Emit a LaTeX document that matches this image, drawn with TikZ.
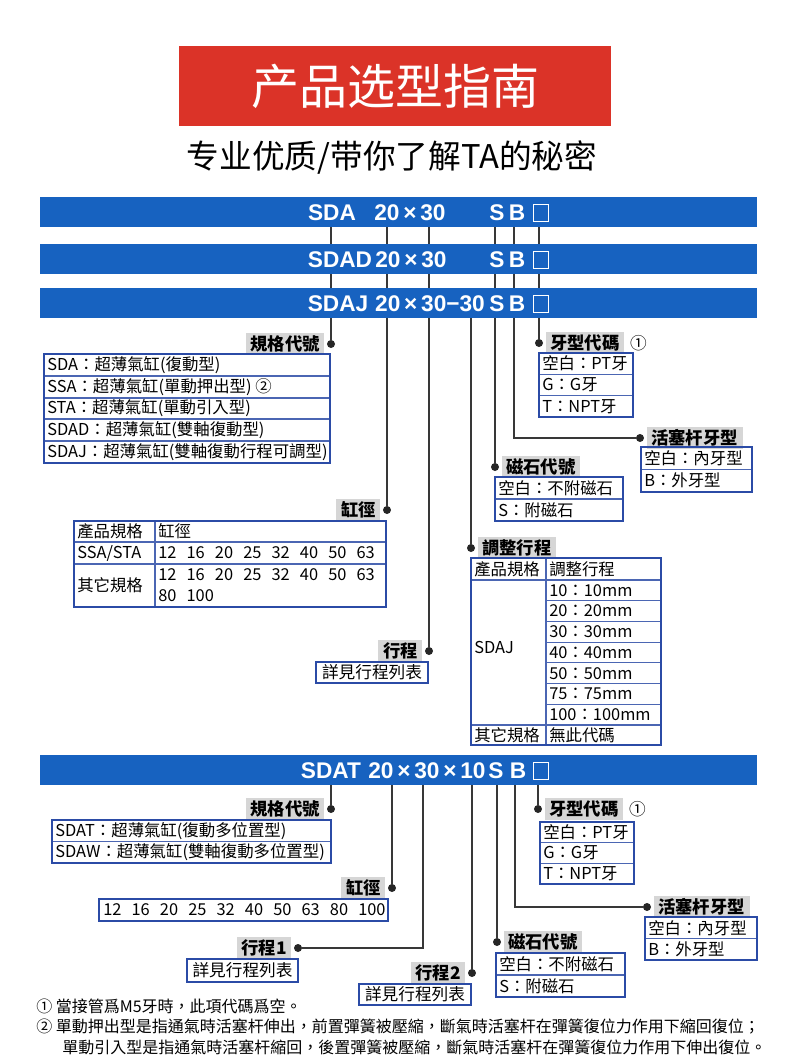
\documentclass[tikz,border=0pt]{standalone}
\usepackage{fontspec}
\setmainfont{Noto Sans CJK TC}
\newfontfamily\scfont{Noto Sans CJK SC}
\newfontfamily\barfont{Liberation Sans}
\usetikzlibrary{positioning}
\definecolor{titlered}{HTML}{DB3328}
\definecolor{barblue}{HTML}{1762C0}
\definecolor{tblblue}{HTML}{2B4BA6}
\definecolor{lblgray}{HTML}{D6D6D6}
\definecolor{leadgray}{HTML}{383838}
\newcommand\nsp{\hspace{7.6pt}}
\tikzset{
  % balkar
  bar/.style={fill=barblue,minimum width=537.75pt,minimum height=22.5pt,inner sep=0pt},
  code/.style={text=white,font=\barfont\bfseries\fontsize{17}{19}\selectfont,inner sep=0pt},
  codebox/.style={draw=white,line width=1pt,minimum width=11.5pt,minimum height=13pt,inner sep=0pt},
  % ledare
  lead/.style={draw=leadgray,line width=1.1pt},
  dot/.style={circle,fill=black!85,inner sep=0pt,minimum size=6pt},
  lbl/.style={fill=lblgray,font=\bfseries\fontsize{13}{15}\selectfont,inner xsep=3.5pt,inner ysep=0pt,minimum height=16pt},
  % tabeller
  tblo/.style={draw=tblblue,line width=1.5pt},
  tbli/.style={draw=tblblue!85,line width=0.8pt},
  cell/.style={anchor=west,inner sep=0pt,font=\fontsize{12.3}{14}\selectfont},
  mid/.style={inner sep=0pt,font=\fontsize{12.5}{14}\selectfont},
  note/.style={anchor=west,inner sep=0pt,font=\fontsize{12}{14}\selectfont},
}
\begin{document}
\begin{tikzpicture}[x=0.75pt,y=-0.75pt]
\useasboundingbox (0,0) rectangle (790,1061);
  % rubrik
  \node[fill=titlered,text=white,minimum width=324pt,minimum height=60pt,
        font=\scfont\fontsize{36}{40}\selectfont] (title) at (395,86) {产品选型指南};
  \node[font=\scfont\fontsize{24.5}{28}\selectfont] (subtitle) at (392,158) {专业优质/带你了解TA的秘密};

  % punkter, övre delen
  \node[dot] (d1) at (331,344) {};
  \node[dot] (d2) at (387,510) {};
  \node[dot] (d3) at (429,651) {};
  \node[dot] (d4) at (471,548) {};
  \node[dot] (d5) at (495,467) {};
  \node[dot] (d6) at (640,438) {};
  \node[dot] (d7) at (539,343) {};
  \coordinate (u1) at (331,227);
  \coordinate (u2) at (387,227);
  \coordinate (u3) at (429,227);
  \coordinate (u4) at (471,318);
  \coordinate (u5) at (495,227);
  \coordinate (u6) at (514,227);
  \coordinate (u7) at (539,227);
  \draw[lead] (u1) -- (d1);
  \draw[lead] (u2) -- (d2);
  \draw[lead] (u3) -- (d3);
  \draw[lead] (u4) -- (d4);
  \draw[lead] (u5) -- (d5);
  \draw[lead] (u6) |- (d6);
  \draw[lead] (u7) -- (d7);

  % punkter, nedre delen
  \node[dot] (e1) at (331,809) {};
  \node[dot] (e2) at (392,888) {};
  \node[dot] (e3) at (298,948) {};
  \node[dot] (e4) at (472,973) {};
  \node[dot] (e5) at (497,942) {};
  \node[dot] (e6) at (647,907) {};
  \node[dot] (e7) at (538,809) {};
  \coordinate (v1) at (331,785);
  \coordinate (v2) at (392,785);
  \coordinate (v3) at (423,785);
  \coordinate (v4) at (472,785);
  \coordinate (v5) at (497,785);
  \coordinate (v6) at (515,785);
  \coordinate (v7) at (538,785);
  \draw[lead] (v1) -- (e1);
  \draw[lead] (v2) -- (e2);
  \draw[lead] (v3) |- (e3);
  \draw[lead] (v4) -- (e4);
  \draw[lead] (v5) -- (e5);
  \draw[lead] (v6) |- (e6);
  \draw[lead] (v7) -- (e7);

  % balkar
  \node[bar] (bar1) at (398.5,212) {};
  \node[bar] (bar2) at (398.5,259) {};
  \node[bar] (bar3) at (398.5,303) {};
  \node[bar] (bar4) at (398.5,770) {};
  \node[code] (c1) at (332,213) {SDA};
  \node[code] (c1d) at (410,213) {20\,×\,30};
  \node[code] (c1s) at (497,213) {S};
  \node[code] (c1b) at (517,213) {B};
  \node[codebox] (c1x) at (541,213) {};
  \node[code] (c2) at (340,260) {SDAD};
  \node[code] (c2d) at (411,260) {20\,×\,30};
  \node[code] (c2s) at (497,260) {S};
  \node[code] (c2b) at (517,260) {B};
  \node[codebox] (c2x) at (541,260) {};
  \node[code] (c3) at (338,304) {SDAJ};
  \node[code] (c3d) at (430,304) {20\,×\,30−30};
  \node[code] (c3s) at (497,304) {S};
  \node[code] (c3b) at (517,304) {B};
  \node[codebox] (c3x) at (541,304) {};
  \node[code] (c4) at (331,771) {SDAT};
  \node[code] (c4d) at (427,771) {20\,×\,30\,×\,10};
  \node[code] (c4s) at (496,771) {S};
  \node[code] (c4b) at (518,771) {B};
  \node[codebox] (c4x) at (541,771) {};

  % etiketter
  \node[lbl,left=1.5pt of d1] (l1) {規格代號};
  \node[lbl,left=1.5pt of d2] (l2) {缸徑};
  \node[lbl,left=1.5pt of d3] (l3) {行程};
  \node[lbl,right=1.5pt of d4] (l4) {調整行程};
  \node[lbl,right=1.5pt of d5] (l5) {磁石代號};
  \node[lbl,right=1.5pt of d6] (l6) {活塞杆牙型};
  \node[lbl,right=1.5pt of d7] (l7) {牙型代碼};
  \node[mid,right=4pt of l7] (m1) {①};
  \node[lbl,left=1.5pt of e1] (k1) {規格代號};
  \node[lbl,left=1.5pt of e2] (k2) {缸徑};
  \node[lbl,left=1.5pt of e3] (k3) {行程1};
  \node[lbl,left=1.5pt of e4] (k4) {行程2};
  \node[lbl,right=1.5pt of e5] (k5) {磁石代號};
  \node[lbl,right=1.5pt of e6] (k6) {活塞杆牙型};
  \node[lbl,right=1.5pt of e7] (k7) {牙型代碼};
  \node[mid,right=4pt of k7] (m2) {①};

  % övre tabeller
  \draw[tbli] (44,354) rectangle (330,463);
  \foreach \y in {376,398,419,441} \draw[tbli] (44,\y) -- (330,\y);
  \draw[tblo] (44,354) rectangle (330,463);
  \foreach \t [count=\i] in {SDA：超薄氣缸(復動型),SSA：超薄氣缸(單動押出型) ②,STA：超薄氣缸(單動引入型),
      SDAD：超薄氣缸(雙軸復動型),SDAJ：超薄氣缸(雙軸復動行程可調型)}
    \node[cell] (gg\i) at (47,354+21.8*\i-10.9) {\t};

  \foreach \y in {374.3,395.7} \draw[tbli] (539,\y) -- (633,\y);
  \draw[tblo] (539,353) rectangle (633,417);
  \foreach \t [count=\i] in {空白：PT牙,G：G牙,T：NPT牙}
    \node[cell] (ya\i) at (542,353+21.33*\i-10.67) {\t};

  \draw[tbli] (641,469.5) -- (752,469.5);
  \draw[tblo] (641,447) rectangle (752,492);
  \foreach \t [count=\i] in {空白：內牙型,B：外牙型}
    \node[cell] (hs\i) at (644,447+22.5*\i-11.25) {\t};

  \draw[tbli] (495,499) -- (623,499);
  \draw[tblo] (495,477) rectangle (623,521);
  \foreach \t [count=\i] in {空白：不附磁石,S：附磁石}
    \node[cell] (cs\i) at (498,477+22*\i-11) {\t};

  \draw[tbli] (74,542) -- (386,542) (74,564) -- (386,564) (155,521) -- (155,607);
  \draw[tblo] (74,521) rectangle (386,607);
  \node[cell] (gj1) at (77,531.5) {產品規格};
  \node[cell] (gj2) at (158,531.5) {缸徑};
  \node[cell] (gj3) at (77,553) {SSA/STA};
  \node[cell] (gj4) at (158,553) {12\nsp16\nsp20\nsp25\nsp32\nsp40\nsp50\nsp63};
  \node[cell] (gj5) at (77,585.5) {其它規格};
  \node[cell] (gj6) at (158,575) {12\nsp16\nsp20\nsp25\nsp32\nsp40\nsp50\nsp63};
  \node[cell] (gj7) at (158,596) {80\nsp100};

  \draw[tblo] (316,662) rectangle (428,683);
  \node[mid] (xc1) at (372,672.5) {詳見行程列表};

  \draw[tbli] (471,580) -- (661,580) (471,725) -- (661,725) (546,558) -- (546,745);
  \foreach \k in {1,...,6} \draw[tbli] (546,580+20.71*\k) -- (661,580+20.71*\k);
  \draw[tblo] (471,558) rectangle (661,745);
  \node[cell] (tz1) at (474,569) {產品規格};
  \node[cell] (tz2) at (549,569) {調整行程};
  \node[cell] (tz3) at (474,647) {SDAJ};
  \foreach \t [count=\i] in {10：10mm,20：20mm,30：30mm,40：40mm,50：50mm,75：75mm,100：100mm}
    \node[cell] (tr\i) at (549,580+20.71*\i-10.36) {\t};
  \node[cell] (tz4) at (474,735) {其它規格};
  \node[cell] (tz5) at (549,735) {無此代碼};

  % nedre tabeller
  \draw[tbli] (52,841.5) -- (331,841.5);
  \draw[tblo] (52,820) rectangle (331,863);
  \foreach \t [count=\i] in {SDAT：超薄氣缸(復動多位置型),SDAW：超薄氣缸(雙軸復動多位置型)}
    \node[cell] (gt\i) at (55,820+21.5*\i-10.75) {\t};

  \foreach \y in {842.7,863.3} \draw[tbli] (540,\y) -- (634,\y);
  \draw[tblo] (540,822) rectangle (634,884);
  \foreach \t [count=\i] in {空白：PT牙,G：G牙,T：NPT牙}
    \node[cell] (yb\i) at (543,822+20.67*\i-10.33) {\t};

  \draw[tblo] (99,899) rectangle (388,921);
  \node[cell] (gk1) at (103,910) {12\nsp16\nsp20\nsp25\nsp32\nsp40\nsp50\nsp63\nsp80\nsp100};

  \draw[tblo] (187,959) rectangle (298,982);
  \node[mid] (xc2) at (242.5,970.5) {詳見行程列表};
  \draw[tblo] (359,984) rectangle (471,1005);
  \node[mid] (xc3) at (415,994.5) {詳見行程列表};

  \draw[tbli] (496,975) -- (625,975);
  \draw[tblo] (496,953) rectangle (625,997);
  \foreach \t [count=\i] in {空白：不附磁石,S：附磁石}
    \node[cell] (ct\i) at (499,953+22*\i-11) {\t};

  \draw[tbli] (645,938.5) -- (757,938.5);
  \draw[tblo] (645,917) rectangle (757,960);
  \foreach \t [count=\i] in {空白：內牙型,B：外牙型}
    \node[cell] (ht\i) at (648,917+21.5*\i-10.75) {\t};

  % fotnoter
  \node[note] (f1) at (36,1006) {① 當接管爲M5牙時，此項代碼爲空。};
  \node[note] (f2) at (36,1027) {② 單動押出型是指通氣時活塞杆伸出，前置彈簧被壓縮，斷氣時活塞杆在彈簧復位力作用下縮回復位；};
  \node[note] (f3) at (62,1047) {單動引入型是指通氣時活塞杆縮回，後置彈簧被壓縮，斷氣時活塞杆在彈簧復位力作用下伸出復位。};
\end{tikzpicture}
\end{document}
